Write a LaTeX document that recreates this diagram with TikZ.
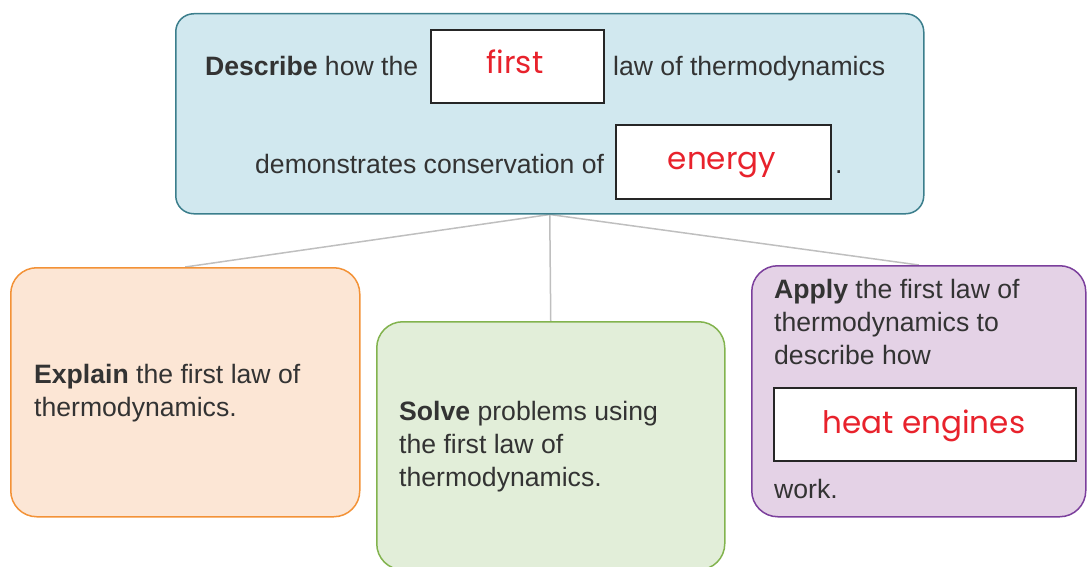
\documentclass[tikz,border=0pt]{standalone}
\usepackage{fontspec}
\usetikzlibrary{backgrounds}
\setmainfont{Liberation Sans}
\newfontfamily\handfont{Poppins}
\definecolor{topfill}{HTML}{D1E8EF}
\definecolor{topdraw}{HTML}{3B7E8C}
\definecolor{orfill}{HTML}{FCE6D5}
\definecolor{ordraw}{HTML}{F39237}
\definecolor{grfill}{HTML}{E2EED9}
\definecolor{grdraw}{HTML}{82B34E}
\definecolor{pufill}{HTML}{E4D2E6}
\definecolor{pudraw}{HTML}{7B3F9C}
\definecolor{linkgray}{HTML}{BFBFBF}
\definecolor{txt}{HTML}{333333}
\definecolor{ansred}{HTML}{E8222C}
\tikzset{
  card/.style={draw, line width=1.5pt, rounded corners=#1, anchor=north west, inner sep=0pt},
  blank/.style={draw=black!85, line width=2pt, fill=white, anchor=north west, inner sep=0pt},
  words/.style={anchor=base west, inner sep=0pt, text=txt, font=\fontsize{26.6}{33}\selectfont},
  answer/.style={anchor=base, inner sep=0pt, text=ansred, font=\handfont\fontsize{31}{36}\selectfont},
  link/.style={draw=linkgray, line width=1.5pt}
}
\begin{document}
\begin{tikzpicture}[x=1pt,y=-1pt]
\useasboundingbox (0,0) rectangle (1087,567);
% boxes
\node[card=18, fill=topfill, draw=topdraw, minimum width=748pt, minimum height=200pt] (top) at (175,13) {};
\node[card=26, fill=orfill, draw=ordraw, minimum width=349pt, minimum height=249pt] (explain) at (10,267) {};
\node[card=26, fill=grfill, draw=grdraw, minimum width=348pt, minimum height=248pt] (solve) at (376,321) {};
\node[card=26, fill=pufill, draw=pudraw, minimum width=334pt, minimum height=251pt] (apply) at (751,265) {};
% connectors (behind)
\begin{scope}[on background layer]
\draw[link] (top.south) -- (explain.north);
\draw[link] (top.south) -- (solve.north);
\draw[link] (top.south) -- (apply.north);
\end{scope}
% top content
\node[words] (d1) at (205,76) {\textbf{Describe} how the};
\node[blank, minimum width=173pt, minimum height=73pt] (b1) at (430,29) {};
\node[answer] (a1) at (515,74) {first};
\node[words] (d2) at (613,76) {law of thermodynamics};
\node[words] (d3) at (255,173) {demonstrates conservation of};
\node[blank, minimum width=215pt, minimum height=74pt] (b2) at (615,124) {};
\node[answer] (a2) at (722,170) {energy};
\node[words] (d4) at (835,173) {.};
% explain
\node[words] (e1) at (34,383) {\textbf{Explain} the first law of};
\node[words] (e2) at (34,416) {thermodynamics.};
% solve
\node[words] (s1) at (399,420) {\textbf{Solve} problems using};
\node[words] (s2) at (399,453) {the first law of};
\node[words] (s3) at (399,486) {thermodynamics.};
% apply
\node[words] (p1) at (774,298) {\textbf{Apply} the first law of};
\node[words] (p2) at (774,331) {thermodynamics to};
\node[words] (p3) at (774,364) {describe how};
\node[blank, minimum width=302pt, minimum height=73pt] (b3) at (773,387) {};
\node[answer] (a3) at (924,433) {heat engines};
\node[words] (p4) at (774,498) {work.};
\end{tikzpicture}
\end{document}
